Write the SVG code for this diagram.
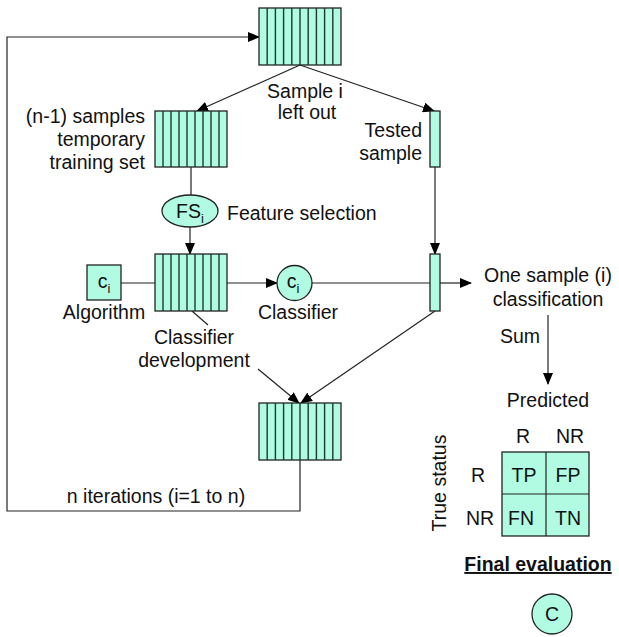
<svg xmlns="http://www.w3.org/2000/svg" width="619" height="637" viewBox="0 0 619 637">
<defs>
<marker id="ah" markerWidth="12" markerHeight="10" refX="11" refY="5" orient="auto" markerUnits="userSpaceOnUse">
<path d="M0,0 L12,5 L0,10 Z" fill="#000"/>
</marker>
<style>
text{font-family:"Liberation Sans",Arial,sans-serif;font-size:19.5px;fill:#111}
.m{text-anchor:middle}
.e{text-anchor:end}
.box{fill:#b0fbe2;stroke:#222;stroke-width:1.3}
.st{stroke:#1a3a30;stroke-width:1.4}
.c{stroke:#222;stroke-width:1.2;fill:none}
.a{stroke:#222;stroke-width:1.2;fill:none;marker-end:url(#ah)}
.sub{font-size:13px}
</style>
</defs>
<rect width="619" height="637" fill="#fff"/>
<g id="connectors">
<polyline class="a" points="300,460 300,511 7,511 7,37 259,37"/>
<line class="a" x1="300" y1="65" x2="197" y2="111"/>
<line class="a" x1="300" y1="65" x2="434" y2="111"/>
<line class="a" x1="435" y1="167" x2="435" y2="254"/>
<line class="c" x1="191" y1="167" x2="191" y2="195"/>
<line class="a" x1="190" y1="227" x2="190" y2="254"/>
<line class="c" x1="121" y1="283" x2="155" y2="283"/>
<line class="a" x1="227" y1="283" x2="277" y2="283"/>
<line class="c" x1="312" y1="283" x2="430" y2="283"/>
<line class="a" x1="440" y1="283" x2="471" y2="283"/>
<line class="a" x1="548" y1="315" x2="548" y2="384"/>
<line class="a" x1="258" y1="369" x2="299" y2="403"/>
<line class="a" x1="435" y1="311" x2="301" y2="403"/>
<line class="c" x1="192" y1="311" x2="208" y2="325"/>
</g>
<g id="full-set">
<rect class="box" x="259" y="8" width="82" height="57"/>
<g class="st">
<line x1="267.2" y1="8" x2="267.2" y2="65"/><line x1="275.4" y1="8" x2="275.4" y2="65"/><line x1="283.6" y1="8" x2="283.6" y2="65"/><line x1="291.8" y1="8" x2="291.8" y2="65"/><line x1="300" y1="8" x2="300" y2="65"/><line x1="308.2" y1="8" x2="308.2" y2="65"/><line x1="316.4" y1="8" x2="316.4" y2="65"/><line x1="324.6" y1="8" x2="324.6" y2="65"/><line x1="332.8" y1="8" x2="332.8" y2="65"/>
</g>
<text class="m" x="305" y="98">Sample i</text>
<text class="m" x="307" y="119">left out</text>
</g>
<g id="training-set">
<rect class="box" x="155" y="111" width="72" height="56"/>
<g class="st">
<line x1="163" y1="111" x2="163" y2="167"/><line x1="171" y1="111" x2="171" y2="167"/><line x1="179" y1="111" x2="179" y2="167"/><line x1="187" y1="111" x2="187" y2="167"/><line x1="195" y1="111" x2="195" y2="167"/><line x1="203" y1="111" x2="203" y2="167"/><line x1="211" y1="111" x2="211" y2="167"/><line x1="219" y1="111" x2="219" y2="167"/>
</g>
<text class="e" x="145" y="123">(n-1) samples</text>
<text class="e" x="145" y="146">temporary</text>
<text class="e" x="145" y="169">training set</text>
</g>
<g id="tested-sample">
<rect class="box" x="430" y="111" width="10" height="56"/>
<text class="e" x="422" y="137">Tested</text>
<text class="e" x="422" y="160">sample</text>
</g>
<g id="feature-selection">
<ellipse class="box" cx="190" cy="211" rx="28" ry="16" stroke-width="1.8"/>
<text class="m" x="190" y="218">FS<tspan class="sub" dy="5">i</tspan></text>
<text x="227" y="220">Feature selection</text>
</g>
<g id="algorithm">
<rect class="box" x="87" y="265" width="34" height="35"/>
<text class="m" x="104" y="288">c<tspan class="sub" dy="5">i</tspan></text>
<text class="m" x="104" y="319">Algorithm</text>
</g>
<g id="classifier-development">
<rect class="box" x="155" y="254" width="72" height="57"/>
<g class="st">
<line x1="163" y1="254" x2="163" y2="311"/><line x1="171" y1="254" x2="171" y2="311"/><line x1="179" y1="254" x2="179" y2="311"/><line x1="187" y1="254" x2="187" y2="311"/><line x1="195" y1="254" x2="195" y2="311"/><line x1="203" y1="254" x2="203" y2="311"/><line x1="211" y1="254" x2="211" y2="311"/><line x1="219" y1="254" x2="219" y2="311"/>
</g>
<text class="m" x="194" y="344">Classifier</text>
<text class="m" x="194" y="367">development</text>
</g>
<g id="classifier">
<circle class="box" cx="294.5" cy="283" r="17.5"/>
<text class="m" x="293" y="288">c<tspan class="sub" dy="5">i</tspan></text>
<text class="m" x="298" y="319">Classifier</text>
</g>
<g id="tested-classified">
<rect class="box" x="430" y="254" width="10" height="57"/>
</g>
<g id="one-sample">
<text class="m" x="548" y="282">One sample (i)</text>
<text class="m" x="548" y="306">classification</text>
<text class="m" x="520" y="343">Sum</text>
</g>
<g id="result-set">
<rect class="box" x="259" y="403" width="82" height="57"/>
<g class="st">
<line x1="267.2" y1="403" x2="267.2" y2="460"/><line x1="275.4" y1="403" x2="275.4" y2="460"/><line x1="283.6" y1="403" x2="283.6" y2="460"/><line x1="291.8" y1="403" x2="291.8" y2="460"/><line x1="300" y1="403" x2="300" y2="460"/><line x1="308.2" y1="403" x2="308.2" y2="460"/><line x1="316.4" y1="403" x2="316.4" y2="460"/><line x1="324.6" y1="403" x2="324.6" y2="460"/><line x1="332.8" y1="403" x2="332.8" y2="460"/>
</g>
<text class="m" x="156" y="503">n iterations (i=1 to n)</text>
</g>
<g id="confusion-matrix">
<text class="m" x="548" y="407">Predicted</text>
<rect class="box" x="502" y="452" width="87" height="84"/>
<line class="c" x1="546" y1="452" x2="546" y2="536"/>
<line class="c" x1="502" y1="494" x2="589" y2="494"/>
<text class="m" x="523" y="443">R</text>
<text class="m" x="570" y="443">NR</text>
<text class="m" x="478" y="482">R</text>
<text class="m" x="480" y="525">NR</text>
<text class="m" x="524" y="482">TP</text>
<text class="m" x="568" y="482">FP</text>
<text class="m" x="521" y="525">FN</text>
<text class="m" x="568" y="525">TN</text>
<text class="m" transform="translate(446,483) rotate(-90)">True status</text>
<text class="m" x="538" y="571" font-weight="bold" text-decoration="underline">Final evaluation</text>
</g>
<g id="label-c">
<circle class="box" cx="552" cy="614" r="20"/>
<text class="m" x="552" y="621">C</text>
</g>
</svg>
